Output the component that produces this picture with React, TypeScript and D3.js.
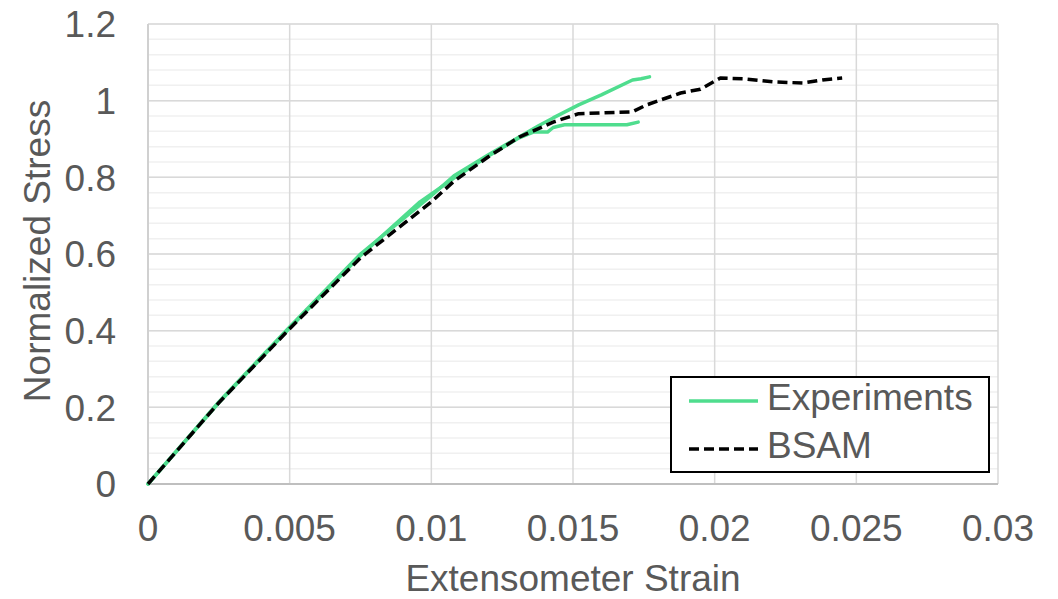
import React from "react";
import * as d3 from "d3";

// Axis ticks
const strainTicks = [0, 0.005, 0.01, 0.015, 0.02, 0.025, 0.03];
const strainTickLabels = ["0", "0.005", "0.01", "0.015", "0.02", "0.025", "0.03"];
const stressTicks = [0, 0.2, 0.4, 0.6, 0.8, 1, 1.2];
const stressTickLabels = ["0", "0.2", "0.4", "0.6", "0.8", "1", "1.2"];

// Experiment specimen A
const expAStrain = [0, 0.0025, 0.005, 0.0075, 0.01, 0.0108, 0.012, 0.0131, 0.0138, 0.0143, 0.0152, 0.016, 0.0171, 0.0174, 0.0177];
const expAStress = [0, 0.214, 0.41, 0.6, 0.752, 0.804, 0.858, 0.905, 0.935, 0.955, 0.989, 1.015, 1.054, 1.057, 1.062];

// Experiment specimen B
const expBStrain = [0, 0.0025, 0.005, 0.0075, 0.0096, 0.0108, 0.012, 0.0131, 0.0136, 0.0141, 0.0143, 0.0147, 0.0169, 0.0173];
const expBStress = [0, 0.212, 0.407, 0.596, 0.736, 0.798, 0.855, 0.903, 0.918, 0.918, 0.93, 0.937, 0.937, 0.944];

// BSAM prediction
const bsamStrain = [0, 0.0025, 0.005, 0.0075, 0.01, 0.0108, 0.012, 0.0131, 0.0143, 0.0152, 0.0171, 0.0176, 0.0188, 0.0195, 0.0202, 0.021, 0.0221, 0.0231, 0.0238, 0.0245];
const bsamStress = [0, 0.212, 0.405, 0.59, 0.736, 0.79, 0.853, 0.905, 0.944, 0.966, 0.971, 0.989, 1.02, 1.03, 1.059, 1.057, 1.049, 1.046, 1.054, 1.059];

const W = 1058;
const H = 599;
const plot = { left: 148, right: 998, top: 24, bottom: 484 };
const FONT = "'Liberation Sans', Arial, sans-serif";
const GREEN = "#4fdd8e";
const TEXT = "#595959";
const FS = 37;

export default function App() {
  const x = d3.scaleLinear().domain([0, 0.03]).range([plot.left, plot.right]);
  const y = d3.scaleLinear().domain([0, 1.2]).range([plot.bottom, plot.top]);

  const toPts = (xs: number[], ys: number[]) => xs.map((v, i) => [v, ys[i]] as [number, number]);
  const line = d3
    .line<[number, number]>()
    .x((d) => x(d[0]))
    .y((d) => y(d[1]));

  const minorTicks = d3.range(0, 31).map((i) => i * 0.04).filter((v) => v <= 1.2 + 1e-9);

  return (
    <svg
      width={W}
      height={H}
      style={{ position: "absolute", left: 0, top: 0, background: "#fff" }}
      fontFamily={FONT}
    >
      {/* minor horizontal gridlines */}
      {minorTicks.map((v, i) => (
        <line key={"mn" + i} x1={plot.left} x2={plot.right} y1={y(v)} y2={y(v)} stroke="#f0f0f0" strokeWidth={1.5} />
      ))}
      {/* major horizontal gridlines */}
      {stressTicks.map((v, i) => (
        <line key={"mjy" + i} x1={plot.left} x2={plot.right} y1={y(v)} y2={y(v)} stroke="#d9d9d9" strokeWidth={1.5} />
      ))}
      {/* vertical gridlines */}
      {strainTicks.map((v, i) => (
        <line key={"mjx" + i} x1={x(v)} x2={x(v)} y1={plot.top} y2={plot.bottom} stroke="#d9d9d9" strokeWidth={1.5} />
      ))}
      {/* axis lines */}
      <line x1={plot.left} x2={plot.right} y1={plot.bottom} y2={plot.bottom} stroke="#bfbfbf" strokeWidth={2} />
      <line x1={plot.left} x2={plot.left} y1={plot.top} y2={plot.bottom} stroke="#d0d0d0" strokeWidth={2} />

      {/* series */}
      <path d={line(toPts(expAStrain, expAStress)) || ""} fill="none" stroke={GREEN} strokeWidth={3.5} strokeLinejoin="round" strokeLinecap="round" />
      <path d={line(toPts(expBStrain, expBStress)) || ""} fill="none" stroke={GREEN} strokeWidth={3.5} strokeLinejoin="round" strokeLinecap="round" />
      <path d={line(toPts(bsamStrain, bsamStress)) || ""} fill="none" stroke="#000" strokeWidth={3.5} strokeDasharray="10 5" strokeLinejoin="round" />

      {/* y tick labels */}
      {stressTicks.map((v, i) => (
        <text key={"yl" + i} x={116} y={y(v)} dy="0.36em" textAnchor="end" fontSize={FS} fill={TEXT}>
          {stressTickLabels[i]}
        </text>
      ))}
      {/* x tick labels */}
      {strainTicks.map((v, i) => (
        <text key={"xl" + i} x={x(v)} y={541} textAnchor="middle" fontSize={FS} fill={TEXT}>
          {strainTickLabels[i]}
        </text>
      ))}

      {/* axis titles */}
      <text x={(plot.left + plot.right) / 2} y={591} textAnchor="middle" fontSize={FS} fill={TEXT}>
        Extensometer Strain
      </text>
      <text transform={`translate(50, 251) rotate(-90)`} textAnchor="middle" fontSize={FS} fill={TEXT}>
        Normalized Stress
      </text>

      {/* legend */}
      <g>
        <rect x={671} y={377} width={318} height={95} fill="#fff" stroke="#000" strokeWidth={2} />
        <line x1={689} x2={758} y1={401} y2={401} stroke={GREEN} strokeWidth={3.5} />
        <text x={767} y={410} fontSize={FS} fill={TEXT}>
          Experiments
        </text>
        <line x1={689} x2={758} y1={449} y2={449} stroke="#000" strokeWidth={3.5} strokeDasharray="10 5" />
        <text x={767} y={458} fontSize={FS} fill={TEXT}>
          BSAM
        </text>
      </g>
    </svg>
  );
}
